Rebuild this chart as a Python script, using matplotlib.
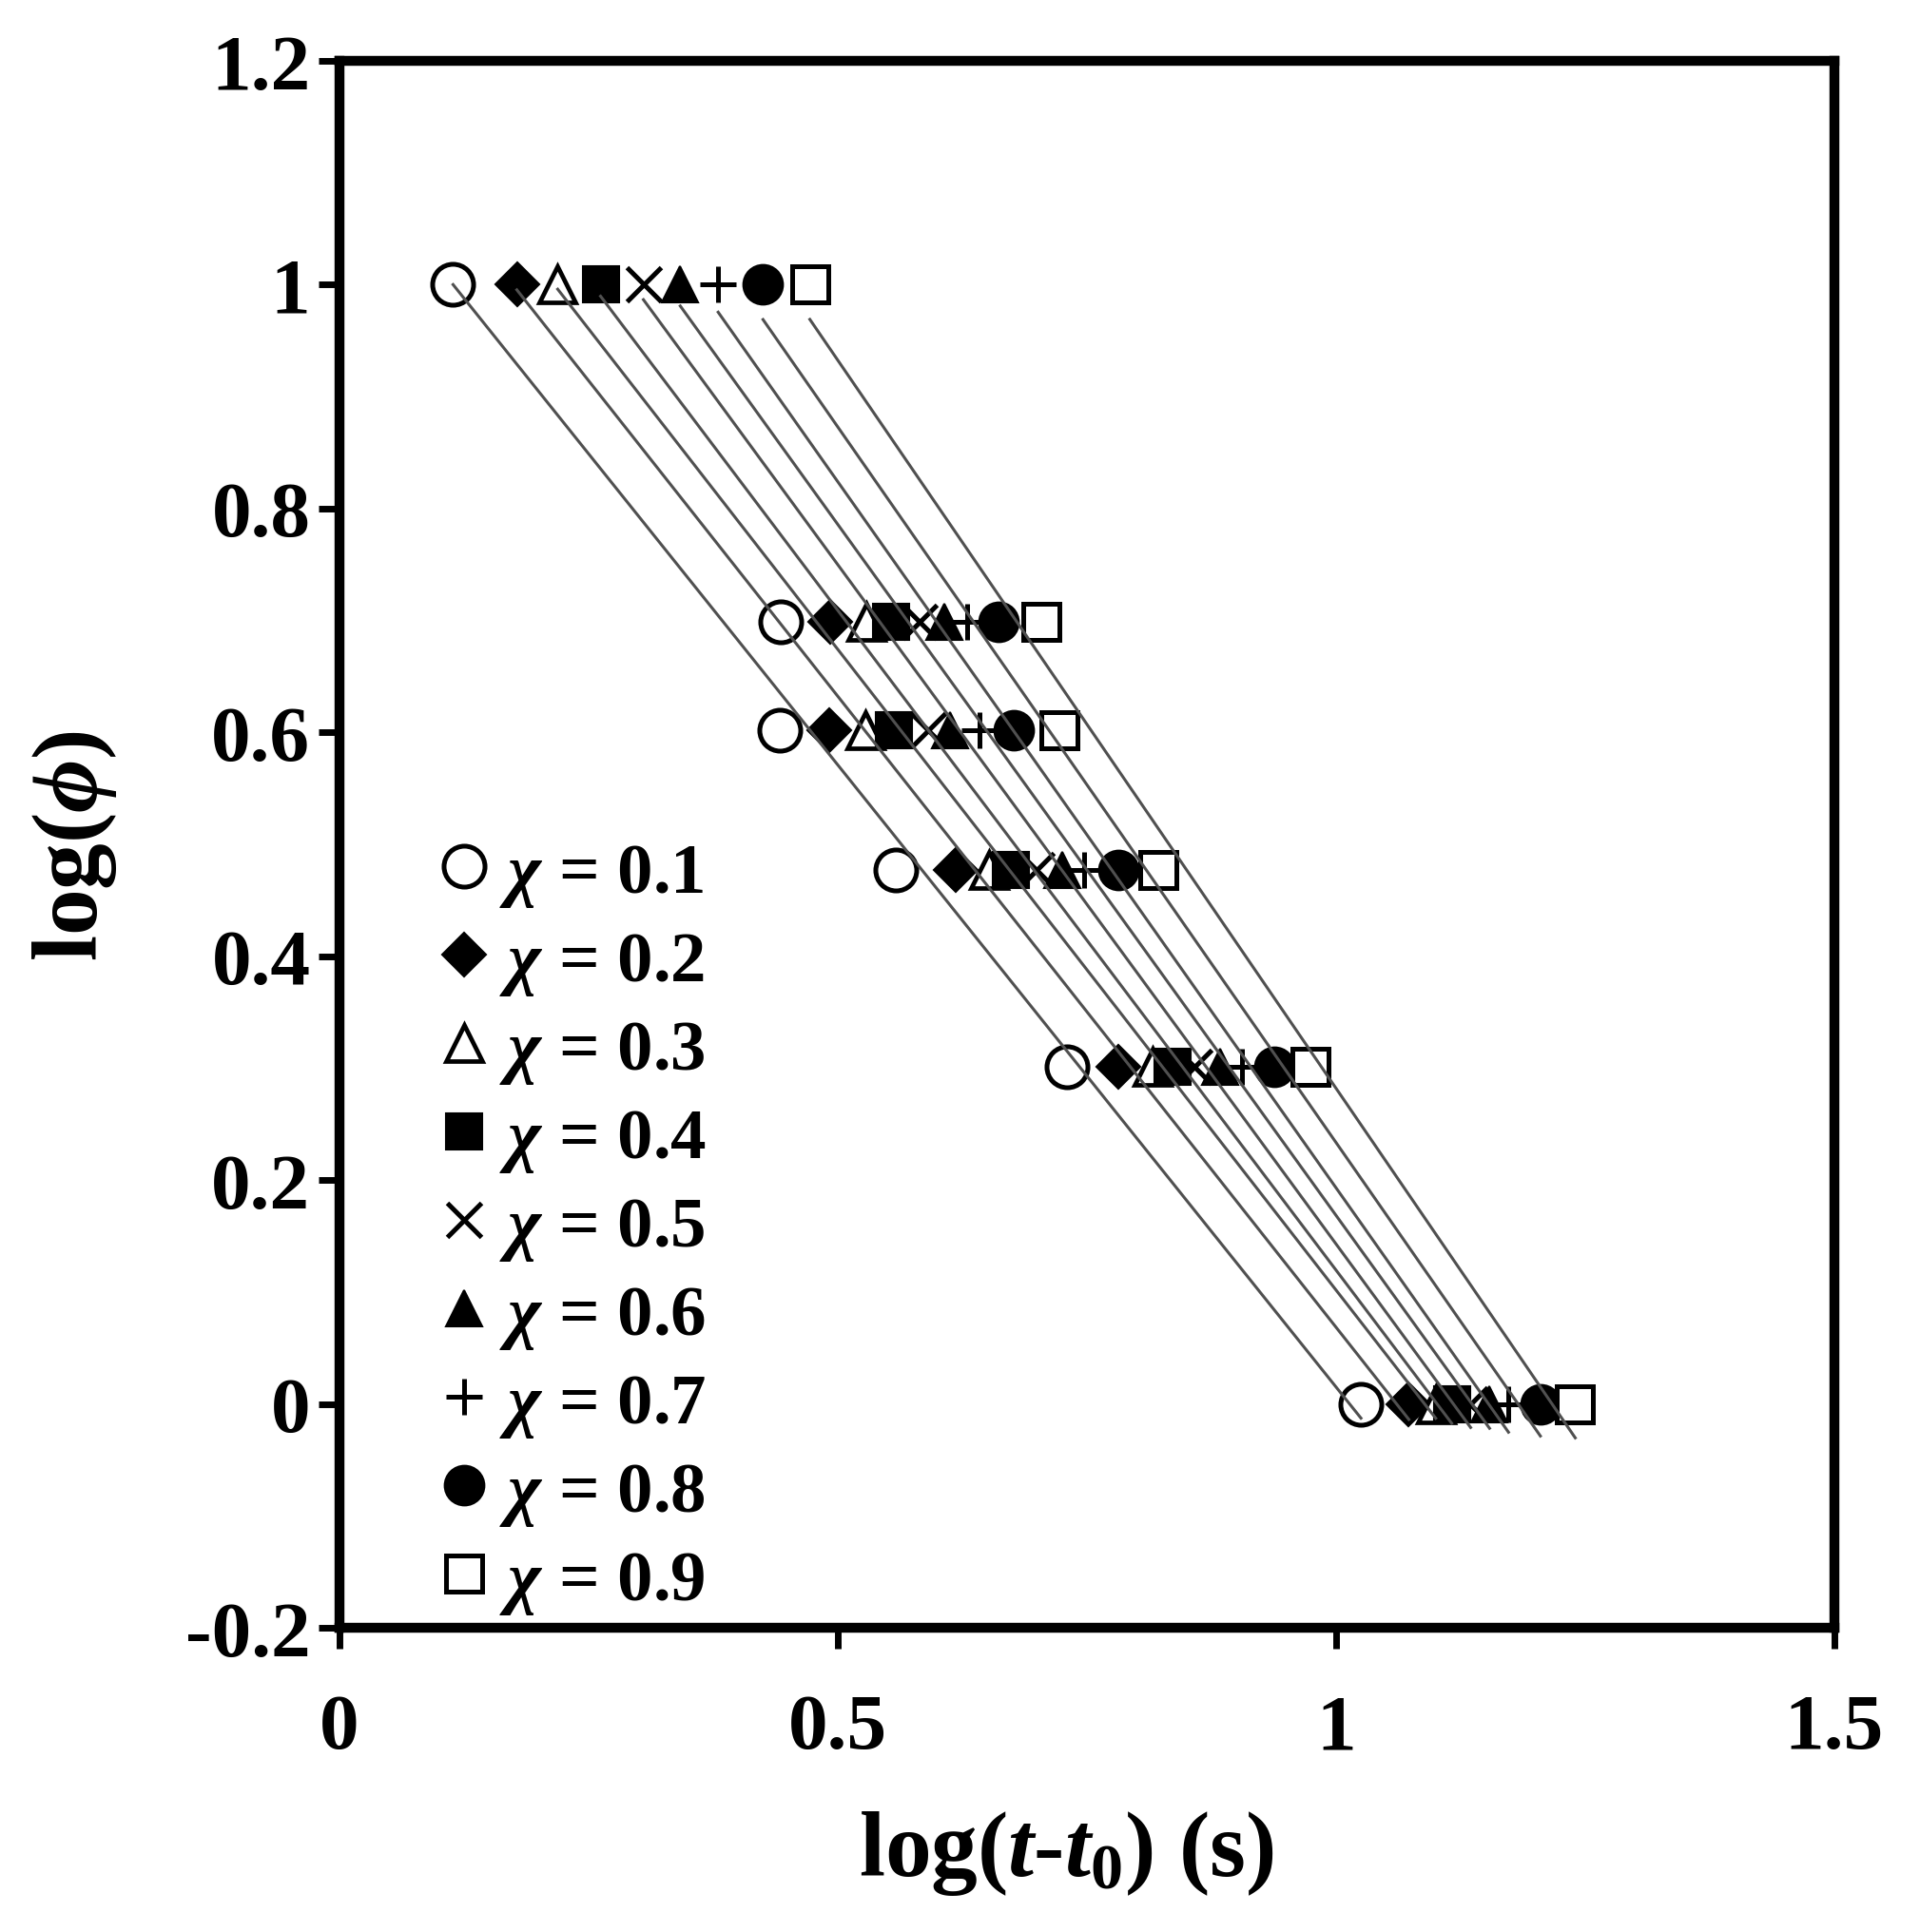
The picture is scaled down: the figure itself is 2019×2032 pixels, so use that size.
import numpy as np
import matplotlib
matplotlib.use('Agg')
import matplotlib.pyplot as plt
from matplotlib.lines import Line2D

plt.rcParams['font.family'] = ['Liberation Serif', 'DejaVu Serif']
plt.rcParams['font.weight'] = 'bold'
plt.rcParams['mathtext.fontset'] = 'custom'
plt.rcParams['mathtext.rm'] = 'Liberation Serif:bold'
plt.rcParams['mathtext.bf'] = 'Liberation Serif:bold'
plt.rcParams['mathtext.it'] = 'Liberation Serif:italic:bold'
plt.rcParams['mathtext.sf'] = 'Liberation Serif:italic'

# log(phi) levels (phi = 10, 5, 4, 3, 2, 1)
log_phi = [1.0, 0.699, 0.602, 0.477, 0.301, 0.0]

# log(t - t0), one list per chi
chi = [0.1, 0.2, 0.3, 0.4, 0.5, 0.6, 0.7, 0.8, 0.9]
x_01 = [0.114, 0.443, 0.442, 0.558, 0.730, 1.025]
x_02 = [0.178, 0.492, 0.491, 0.618, 0.782, 1.073]
x_03 = [0.219, 0.529, 0.528, 0.652, 0.816, 1.100]
x_04 = [0.262, 0.553, 0.556, 0.674, 0.836, 1.116]
x_05 = [0.305, 0.582, 0.591, 0.699, 0.858, 1.135]
x_06 = [0.342, 0.607, 0.613, 0.725, 0.884, 1.154]
x_07 = [0.380, 0.630, 0.642, 0.747, 0.906, 1.173]
x_08 = [0.425, 0.661, 0.677, 0.782, 0.938, 1.205]
x_09 = [0.472, 0.704, 0.722, 0.822, 0.974, 1.240]
xs = [x_01, x_02, x_03, x_04, x_05, x_06, x_07, x_08, x_09]

# marker styles: (marker, size, facecolor, edgewidth)
styles = [
    ('o', 31, 'white', 3.6),
    ('D', 23, 'black', 1.5),
    ('^', 27, 'white', 3.4),
    ('s', 27, 'black', 1.5),
    ('x', 26, 'black', 3.6),
    ('^', 28, 'black', 1.5),
    ('+', 28, 'black', 3.6),
    ('o', 30, 'black', 1.5),
    ('s', 28, 'white', 3.6),
]

fig = plt.figure(figsize=(20.19, 20.33), dpi=100)
ax = fig.add_axes([0.1768, 0.1574, 0.7786, 0.8106])

handles = []
for c, x, (m, ms, fc, mew) in zip(chi, xs, styles):
    ax.plot(x, log_phi, linestyle='none', marker=m, markersize=ms,
            markerfacecolor=fc, markeredgecolor='black', markeredgewidth=mew,
            zorder=3)
    # linear trendline over the data range
    k, b = np.polyfit(x, log_phi, 1)
    xx = np.array([min(x), max(x)])
    ax.plot(xx, k * xx + b, color='#505050', linewidth=2.2, zorder=4)
    handles.append(Line2D([], [], linestyle='none', marker=m, markersize=ms,
                          markerfacecolor=fc, markeredgecolor='black',
                          markeredgewidth=mew,
                          label=r'$\mathsf{\chi}$ = %.1f' % c))

ax.set_xlim(0, 1.5)
ax.set_ylim(-0.2, 1.2)
ax.set_xticks([0, 0.5, 1, 1.5])
ax.set_xticklabels(['0', '0.5', '1', '1.5'])
ax.set_yticks([-0.2, 0, 0.2, 0.4, 0.6, 0.8, 1, 1.2])
ax.set_yticklabels(['-0.2', '0', '0.2', '0.4', '0.6', '0.8', '1', '1.2'])

for s in ax.spines.values():
    s.set_linewidth(7.5)
ax.tick_params(axis='both', direction='out', length=16, width=5, labelsize=60)
ax.tick_params(axis='x', pad=34)
ax.tick_params(axis='y', pad=6)

ax.set_xlabel(r'log($t$-$t_{\mathit{0}}$) (s)', fontsize=70, fontweight='bold')
ax.xaxis.set_label_coords(0.486, -0.115)
ax.set_ylabel(r'log($\mathit{\phi}$)', fontsize=70, fontweight='bold',
              labelpad=50)

leg = ax.legend(handles=handles, loc='upper left', bbox_to_anchor=(0.045, 0.52),
                frameon=False, fontsize=54, handlelength=0.8, handletextpad=0.1,
                labelspacing=0.3, borderaxespad=0)

fig.savefig('out.png', dpi=100)
